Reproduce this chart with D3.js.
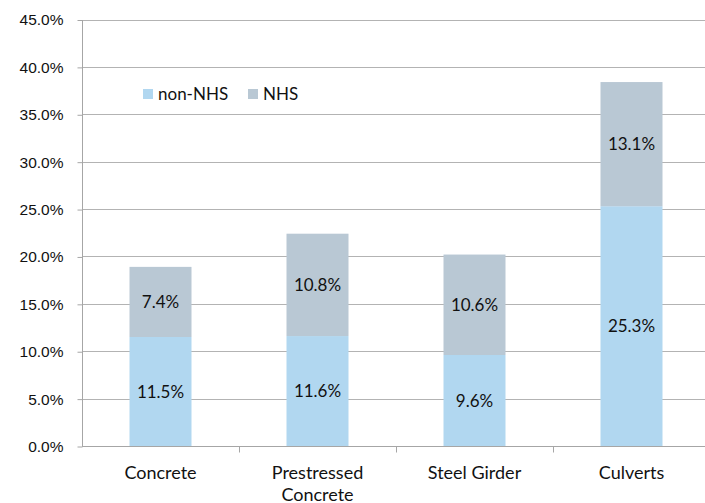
<!DOCTYPE html>
<html>
<head>
<meta charset="utf-8">
<script src="https://cdn.jsdelivr.net/npm/d3@7"></script>
<style>
  body { margin: 0; background: #fff; }
  svg { display: block; font-family: Lato, "Open Sans", sans-serif; }
</style>
</head>
<body>
<div id="chart"></div>
<script>
// chart data
const categories = ['Concrete', 'Prestressed Concrete', 'Steel Girder', 'Culverts'];
const nonNHS = [11.5, 11.6, 9.6, 25.3];
const NHS = [7.4, 10.8, 10.6, 13.1];
const seriesNames = ['non-NHS', 'NHS'];
const yTicks = [0, 5, 10, 15, 20, 25, 30, 35, 40, 45];

const width = 705;
const height = 503;
const colors = { 'non-NHS': '#b1d7f0', 'NHS': '#b9c8d4' };
const textColor = '#111';

const svg = d3.select('#chart')
  .append('svg')
  .attr('width', width)
  .attr('height', height);

const x = d3.scaleBand()
  .domain(categories)
  .range([82, 710])
  .paddingInner(0)
  .paddingOuter(0);

const y = d3.scaleLinear()
  .domain([0, 45])
  .range([446, 19.5]);

const barWidth = 62;

// gridlines
svg.append('g')
  .selectAll('line')
  .data(yTicks.filter((d) => d > 0))
  .enter().append('line')
  .attr('x1', 82)
  .attr('x2', width)
  .attr('y1', (d) => Math.round(y(d)) + 0.5)
  .attr('y2', (d) => Math.round(y(d)) + 0.5)
  .attr('stroke', '#b3b3b3')
  .attr('stroke-width', 1);

// stacked data
const rows = categories.map((c, i) => ({ cat: c, 'non-NHS': nonNHS[i], 'NHS': NHS[i] }));
const stack = d3.stack().keys(seriesNames)(rows);

const layers = svg.append('g')
  .selectAll('g')
  .data(stack)
  .enter().append('g')
  .attr('fill', (d) => colors[d.key]);

layers.selectAll('rect')
  .data((d) => d)
  .enter().append('rect')
  .attr('x', (d) => x(d.data.cat) + x.bandwidth() / 2 - barWidth / 2)
  .attr('width', barWidth)
  .attr('y', (d) => y(d[1]))
  .attr('height', (d) => y(d[0]) - y(d[1]));

// data labels
layers.selectAll('text')
  .data((d) => d.map((v) => ({ v, key: d.key })))
  .enter().append('text')
  .attr('x', (d) => x(d.v.data.cat) + x.bandwidth() / 2)
  .attr('y', (d) => (y(d.v[0]) + y(d.v[1])) / 2)
  .attr('dy', '0.36em')
  .attr('text-anchor', 'middle')
  .attr('fill', textColor)
  .style('font-size', '17px')
  .text((d) => `${d.v.data[d.key].toFixed(1)}%`);

// y axis
const yAxis = d3.axisLeft(y)
  .tickValues(yTicks)
  .tickSize(5)
  .tickFormat((d) => `${d.toFixed(1)}%`);

const yg = svg.append('g')
  .attr('transform', 'translate(82.5,0.5)')
  .call(yAxis);
yg.select('.domain').attr('stroke', '#a6a6a6').attr('d', `M0,${y(45)}V${y(0)}`);
yg.selectAll('.tick line').attr('stroke', '#a6a6a6');
yg.selectAll('.tick text')
  .attr('x', -19)
  .attr('fill', textColor)
  .style('font-size', '15.5px');

// x axis
const xg = svg.append('g')
  .attr('transform', `translate(0,${Math.round(y(0)) + 0.5})`);
xg.append('line')
  .attr('x1', 82)
  .attr('x2', width)
  .attr('stroke', '#a6a6a6');
xg.selectAll('.xtick')
  .data(categories.slice(1))
  .enter().append('line')
  .attr('x1', (d) => Math.round(x(d)) + 0.5)
  .attr('x2', (d) => Math.round(x(d)) + 0.5)
  .attr('y1', 0)
  .attr('y2', 6)
  .attr('stroke', '#a6a6a6');

const xl = xg.selectAll('.xlabel')
  .data(categories)
  .enter().append('text')
  .attr('text-anchor', 'middle')
  .attr('fill', textColor)
  .style('font-size', '18px')
  .attr('transform', (d) => `translate(${x(d) + x.bandwidth() / 2},32)`);

xl.each(function (d) {
  const t = d3.select(this);
  const words = d === 'Prestressed Concrete' ? ['Prestressed', 'Concrete'] : [d];
  words.forEach((w, i) => {
    t.append('tspan')
      .attr('x', 0)
      .attr('dy', i === 0 ? 0 : 22)
      .text(w);
  });
});

// legend
const legend = svg.append('g')
  .attr('transform', 'translate(143,89)');
const legendX = [0, 105];
seriesNames.forEach((s, i) => {
  const g = legend.append('g').attr('transform', `translate(${legendX[i]},0)`);
  g.append('rect')
    .attr('width', 10)
    .attr('height', 10)
    .attr('fill', colors[s]);
  g.append('text')
    .attr('x', 15)
    .attr('y', 5)
    .attr('dy', '0.36em')
    .attr('fill', textColor)
    .style('font-size', '17px')
    .text(s);
});
</script>
</body>
</html>
